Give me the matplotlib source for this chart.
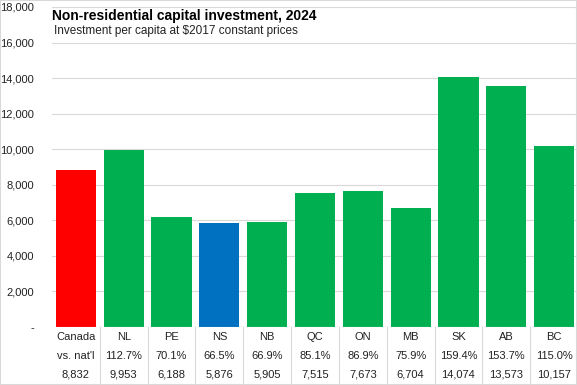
import matplotlib.pyplot as plt
from matplotlib.patches import Rectangle

regions = ["Canada", "NL", "PE", "NS", "NB", "QC", "ON", "MB", "SK", "AB", "BC"]
investment = [8832, 9953, 6188, 5876, 5905, 7515, 7673, 6704, 14074, 13573, 10157]
vs_natl = ["vs. nat'l", "112.7%", "70.1%", "66.5%", "66.9%", "85.1%",
           "86.9%", "75.9%", "159.4%", "153.7%", "115.0%"]

colors = ["#FF0000"] + ["#00B050"] * 2 + ["#0070C0"] + ["#00B050"] * 7

plt.rcParams["font.family"] = ["Liberation Sans", "DejaVu Sans"]

W, H = 577, 385
fig = plt.figure(figsize=(W / 100, H / 100), dpi=100)
# plot area in pixels: left 52, right 578, top 7, bottom 327
ax = fig.add_axes([52 / W, (H - 327) / H, 526 / W, 320 / H])

x = range(len(regions))
ax.bar(x, investment, width=0.84, color=colors, zorder=2)

ax.set_xlim(-0.5, len(regions) - 0.5)
ax.set_ylim(0, 18000)
ax.set_yticks(range(0, 18001, 2000))
ax.set_yticklabels(["-"] + [f"{v:,}" for v in range(2000, 18001, 2000)])
ax.tick_params(axis="y", length=0, pad=13, labelsize=8, labelcolor="#222222")
ax.set_xticks([])
ax.grid(axis="y", color="#D9D9D9", linewidth=0.8, zorder=0)
for s in ax.spines.values():
    s.set_visible(False)
ax.axhline(0, color="#D9D9D9", linewidth=0.8, zorder=3)

# table under the bars
tr = ax.get_xaxis_transform()
rows_y = [-0.031, -0.090, -0.147]
for i in x:
    ax.text(i, rows_y[0], regions[i], transform=tr, ha="center", va="center",
            fontsize=8, color="#222222", clip_on=False)
    ax.text(i, rows_y[1], vs_natl[i], transform=tr, ha="center", va="center",
            fontsize=8, color="#222222", clip_on=False)
    ax.text(i, rows_y[2], f"{investment[i]:,}", transform=tr, ha="center",
            va="center", fontsize=8, color="#222222", clip_on=False)
for i in range(len(regions)):
    ax.plot([i + 0.5, i + 0.5], [0, -0.18], transform=tr, color="#D9D9D9",
            linewidth=0.8, clip_on=False)

fig.text(52 / W, 1 - 16 / H, "Non-residential capital investment, 2024",
         fontsize=10, fontweight="bold", ha="left", va="center")
fig.text(54 / W, 1 - 31 / H, "Investment per capita at $2017 constant prices",
         fontsize=8.5, ha="left", va="center", color="#222222")

fig.patches.append(Rectangle((0, 0), 1, 1, transform=fig.transFigure,
                             fill=False, edgecolor="#D9D9D9", linewidth=1.5))

fig.savefig("out.png", dpi=100)
